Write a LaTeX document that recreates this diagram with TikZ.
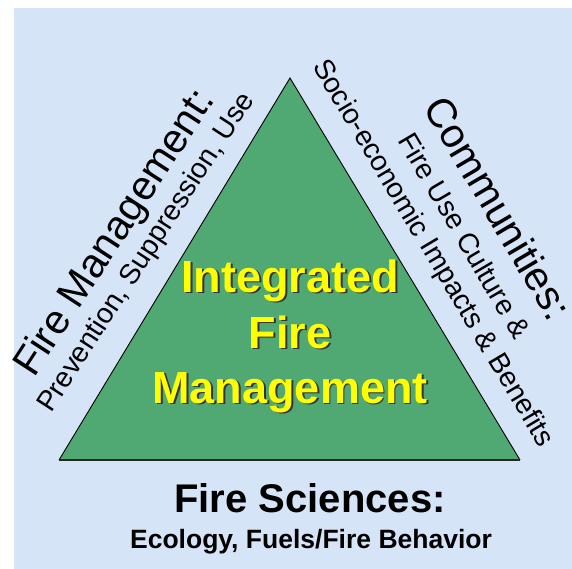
\documentclass[tikz,border=0pt]{standalone}
\usepackage{fontspec}
\setmainfont{Liberation Sans}
\definecolor{bgblue}{RGB}{214,228,247}
\definecolor{trigreen}{RGB}{80,168,115}
\definecolor{ifmyellow}{RGB}{255,255,0}
\newcommand{\shadowtext}[1]{\makebox[0pt][l]{\hspace{1.8pt}\raisebox{-1.8pt}{\textcolor{black!80}{#1}}}\textcolor{ifmyellow}{#1}}
\begin{document}
\begin{tikzpicture}[x=1pt,y=-1pt,
  sidebig/.style={inner sep=0pt,font=\fontsize{41}{41}\selectfont,text=black},
  sidesmall/.style={inner sep=0pt,font=\fontsize{28.3}{28.3}\selectfont,text=black},
  ifm/.style={inner sep=0pt,font=\bfseries\fontsize{45}{45}\selectfont,anchor=base},
]
\useasboundingbox (0,0) rectangle (572,569);
\fill[bgblue] (14,8) rectangle (572,569);
% triangle
\coordinate (A) at (290,78);
\coordinate (B) at (59,460);
\coordinate (C) at (520,460);
\fill[trigreen] (A) -- (B) -- (C) -- cycle;
\draw[black,line width=0.9pt,line join=miter] (B) -- (A) -- (C);
\draw[black!85,line width=2pt] (B) -- (C);
% center text with shadow
\node[ifm] (c1) at (290,292) {\shadowtext{Integrated}};
\node[ifm] (c2) at (290,348) {\shadowtext{Fire}};
\node[ifm] (c3) at (290,403) {\shadowtext{Management}};
% left labels
\node[sidebig,anchor=base west,rotate=57] (fm) at (34,379) {Fire Management:};
\node[sidesmall,anchor=base west,rotate=57] (fms) at (51,414) {Prevention, Suppression, Use};
% right labels
\node[sidebig,anchor=base west,rotate=-59.5] (com) at (422,107) {Communities:};
\node[sidesmall,anchor=base west,rotate=-59.5] (coma) at (397,140) {Fire Use Culture \&};
\node[sidesmall,anchor=base west,rotate=-59.2] (comb) at (312,66) {Socio-economic Impacts \& Benefits};
% bottom labels
\node[inner sep=0pt,anchor=base,font=\bfseries\fontsize{40}{40}\selectfont] (fs) at (310,512) {Fire Sciences:};
\node[inner sep=0pt,anchor=base,font=\bfseries\fontsize{26.5}{26.5}\selectfont] (fss) at (311,548) {Ecology, Fuels/Fire Behavior};
\end{tikzpicture}
\end{document}
